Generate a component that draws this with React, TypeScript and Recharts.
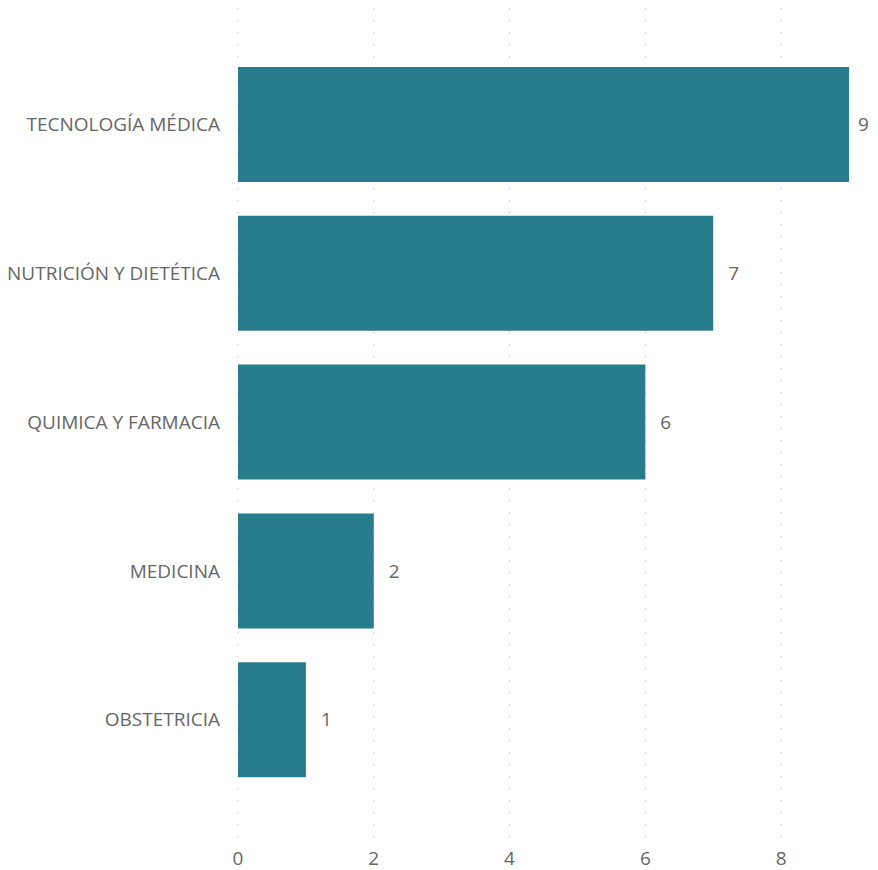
import React from 'react';
import { BarChart, Bar, XAxis, YAxis, CartesianGrid } from 'recharts';

const carreras = ['TECNOLOGÍA MÉDICA', 'NUTRICIÓN Y DIETÉTICA', 'QUIMICA Y FARMACIA', 'MEDICINA', 'OBSTETRICIA'];
const cantidades = [9, 7, 6, 2, 1];
const xTicks = [0, 2, 4, 6, 8];

const data = carreras.map((name, i) => ({ name, value: cantidades[i] }));

const textColor = '#666666';
const font = '"Open Sans", sans-serif';

// value label to the right of each bar, kept inside the visible page
const renderValue = (props: any) => {
  const { x, y, width, height, value } = props;
  const tx = Math.min(Number(x) + Number(width) + 15, 850);
  return (
    <text
      x={tx}
      y={Number(y) + Number(height) / 2}
      dy="0.35em"
      fill={textColor}
      fontSize={19}
      fontFamily={font}
      textAnchor="start"
    >
      {value}
    </text>
  );
};

export default function App() {
  return (
    <div style={{ fontFamily: font }}>
      <style>{'html{overflow:hidden} .recharts-surface{overflow:visible !important}'}</style>
      <BarChart
        width={870}
        height={862}
        data={data}
        layout="vertical"
        margin={{ top: 0, right: 29, left: 0, bottom: 0 }}
        barCategoryGap={17}
      >
        <CartesianGrid
          horizontal={false}
          stroke="#c8c8c8"
          strokeDasharray="1.5 10.5"
          verticalCoordinatesGenerator={({ offset }: any) =>
            xTicks.map((t) => offset.left + (t / 9) * offset.width)
          }
        />
        <XAxis
          type="number"
          domain={[0, 9]}
          ticks={xTicks}
          axisLine={false}
          tickLine={false}
          tickMargin={1}
          height={25}
          tick={{ fill: textColor, fontSize: 19, fontFamily: font }}
        />
        <YAxis
          type="category"
          dataKey="name"
          width={230}
          axisLine={false}
          tickLine={false}
          tickMargin={12}
          padding={{ top: 42, bottom: 51 }}
          tick={{ fill: textColor, fontSize: 19, fontFamily: font }}
        />
        <Bar dataKey="value" fill="#287d8c" isAnimationActive={false} label={renderValue} />
      </BarChart>
    </div>
  );
}
